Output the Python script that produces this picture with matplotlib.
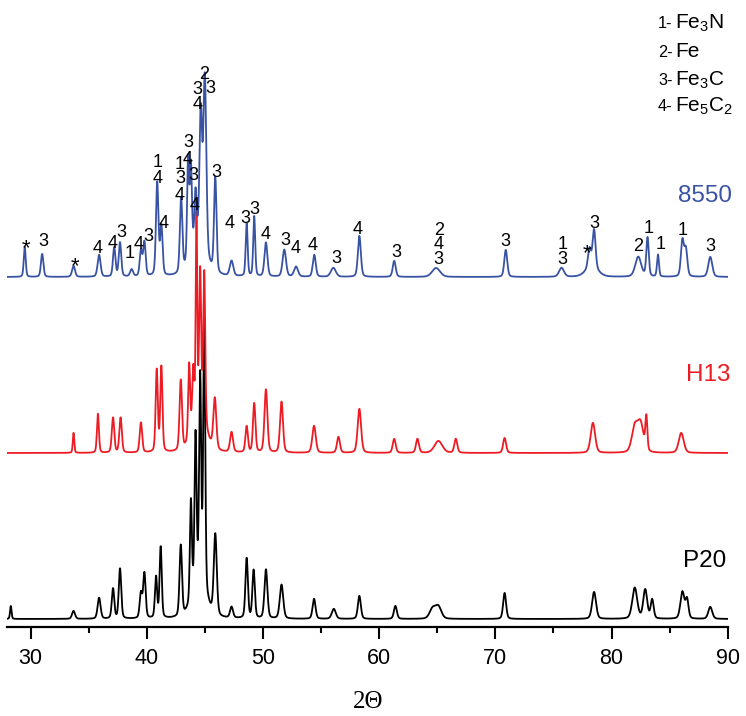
import numpy as np
import matplotlib
matplotlib.use("Agg")
import matplotlib.pyplot as plt

plt.rcParams['font.family'] = ['Liberation Sans', 'DejaVu Sans']
plt.rcParams['mathtext.fontset'] = 'custom'
plt.rcParams['mathtext.rm'] = 'Liberation Sans'

# ---------------- data ----------------
x_min, x_max = 28, 90
x_ticks = [30, 40, 50, 60, 70, 80, 90]

sample_names = ["8550", "H13", "P20"]
sample_offsets = [350, 174, 8]           # baseline intensity (a.u.)

# 8550 (blue)
blue_pos = [29.5, 31.0, 33.7, 35.9, 37.2, 37.7, 38.7, 39.5, 39.8, 40.9, 41.26,
            42.96, 43.56, 43.8, 44.2, 44.4, 44.65, 45.0, 45.9, 47.3, 48.6, 49.25,
            50.26, 51.84, 52.85, 54.42, 56.06, 58.3, 61.3, 64.9, 70.9, 75.7,
            78.1, 78.5, 78.3, 82.3, 83.1, 84.0, 86.1, 86.4, 88.5]
blue_height = [30, 23, 11, 22, 29, 34, 7, 25, 34, 93, 49,
               74, 100, 85, 45, 40, 125, 175, 95, 15, 53, 60,
               34, 27, 10, 22, 9, 41, 16, 9, 27, 9,
               19, 38, 10, 20, 39, 22, 36, 27, 20]
blue_width = [0.2, 0.25, 0.3, 0.3, 0.25, 0.25, 0.3, 0.25, 0.25, 0.25, 0.25,
              0.25, 0.2, 0.2, 0.2, 1.4, 0.25, 0.3, 0.25, 0.35, 0.2, 0.2,
              0.3, 0.35, 0.4, 0.3, 0.5, 0.3, 0.3, 0.8, 0.3, 0.5,
              0.3, 0.3, 1.2, 0.6, 0.25, 0.2, 0.3, 0.3, 0.4]

# H13 (red)
red_pos = [33.7, 35.8, 37.1, 37.75, 39.5, 40.86, 41.26, 42.93, 43.65, 44.0,
           44.28, 44.6, 44.95, 44.5, 45.86, 47.3, 48.6, 49.25, 50.26, 51.6,
           54.4, 56.5, 58.3, 61.3, 63.3, 65.1, 66.6, 70.8, 78.4, 82.0, 82.5,
           83.0, 86.0]
red_height = [20, 39, 35, 35, 30, 82, 85, 70, 74, 55,
              200, 140, 150, 40, 51, 20, 26, 49, 63, 51,
              27, 16, 44, 14, 14, 12, 14, 15, 30, 25, 28,
              33, 20]
red_width = [0.15, 0.2, 0.25, 0.25, 0.25, 0.22, 0.22, 0.25, 0.2, 0.2,
             0.15, 0.2, 0.2, 1.3, 0.3, 0.3, 0.25, 0.25, 0.3, 0.3,
             0.35, 0.3, 0.35, 0.3, 0.3, 0.8, 0.3, 0.3, 0.45, 0.6, 0.6,
             0.2, 0.5]

# P20 (black)
black_pos = [28.3, 33.7, 35.9, 37.1, 37.7, 39.5, 39.8, 40.8, 41.2, 42.93,
             43.8, 44.2, 44.6, 44.95, 44.5, 45.9, 47.3, 48.6, 49.2, 50.26,
             51.6, 54.4, 56.1, 58.3, 61.4, 64.6, 65.1, 70.8, 78.5, 82.0,
             82.9, 83.5, 86.1, 86.5, 88.5]
black_height = [13, 8, 21, 30, 50, 25, 45, 41, 71, 71,
                98, 148, 200, 266, 40, 81, 11, 60, 48, 49,
                34, 20, 10, 23, 13, 10, 12, 26, 27, 31,
                29, 19, 27, 19, 12]
black_width = [0.15, 0.3, 0.3, 0.25, 0.25, 0.25, 0.25, 0.22, 0.22, 0.25,
               0.2, 0.2, 0.2, 0.2, 1.3, 0.3, 0.3, 0.25, 0.25, 0.3,
               0.35, 0.3, 0.4, 0.3, 0.3, 0.6, 0.6, 0.3, 0.4, 0.5,
               0.4, 0.3, 0.4, 0.3, 0.4]

# phase labels above the 8550 pattern
label_text = ["*", "3", "*", "4", "4", "3", "1", "4", "3", "1", "4", "4",
              "4", "3", "1", "4", "3", "3", "4", "4", "3", "2", "3", "3",
              "4", "3", "3", "4", "3", "4", "4", "3", "4", "3",
              "2", "4", "3", "3", "1", "3", "*", "3", "2", "1", "1", "1", "3"]
label_x = [29.57, 31.09, 33.79, 35.80, 37.03, 37.84, 38.53, 39.28, 40.11, 40.95, 40.95, 41.49,
           42.81, 42.90, 42.81, 43.50, 43.56, 44.02, 44.14, 44.40, 44.36, 44.97, 45.46, 45.95,
           47.16, 48.47, 49.25, 50.20, 51.92, 52.84, 54.31, 56.29, 58.16, 61.45,
           65.14, 65.14, 65.14, 70.89, 75.78, 75.78, 77.90, 78.50, 82.29, 83.16, 84.25, 86.12, 88.47]
label_y = [385, 387, 367, 380, 385, 396, 375, 384, 392, 466, 450, 405,
           433, 450, 464, 469, 486, 453, 423, 524, 539, 554, 540, 456,
           405, 410, 419, 394, 388, 380, 383, 370, 399, 376,
           398, 384, 369, 387, 384, 369, 380, 405, 382, 400, 384, 398, 382]

legend_num = ["1-", "2-", "3-", "4-"]
legend_phase = [r"Fe$_\mathregular{3}$N", "Fe", r"Fe$_\mathregular{3}$C",
                r"Fe$_\mathregular{5}$C$_\mathregular{2}$"]

# ---------------- drawing ----------------
W, H = 746, 716
fig = plt.figure(figsize=(W / 100, H / 100), dpi=100)
ax = fig.add_axes([7.3 / W, (H - 627) / H, (727.7 - 7.3) / W, 627 / H])

x = np.linspace(x_min, x_max, 6201)


def pattern(pos, hgt, wid, base):
    y = np.full_like(x, float(base))
    for p, a, w in zip(pos, hgt, wid):
        d = (x - p) / w
        y += a * (0.7 * np.exp(-4 * np.log(2) * d ** 2) + 0.3 / (1 + 4 * d ** 2))
    return y


colors = ["#3953a4", "#ed1c24", "#000000"]
series = [(blue_pos, blue_height, blue_width),
          (red_pos, red_height, red_width),
          (black_pos, black_height, black_width)]
for (pos, hgt, wid), base, c, z in zip(series, sample_offsets, colors, [3, 2, 1]):
    ax.plot(x, pattern(pos, hgt, wid, base), color=c, lw=1.3, zorder=z)

# sample names
name_x = [88.04, 88.3, 88.04]
name_y = [431, 252, 66]
for n, nx, ny, c in zip(sample_names, name_x, name_y, colors):
    ax.text(nx, ny, n, color=c, fontsize=17.5, ha="center", va="center")

# phase labels
for s, lx, ly in zip(label_text, label_x, label_y):
    if s == "*":
        ax.annotate(s, (lx, ly), xytext=(0, -7), textcoords="offset pixels",
                    ha="center", va="center", fontsize=16, color="black")
    else:
        ax.annotate(s, (lx, ly), xytext=(0, -1.8), textcoords="offset pixels",
                    ha="center", va="center", fontsize=13, color="black")

ax.set_xlim(x_min, x_max)
ax.set_ylim(0, 627)
for sp in ["left", "right", "top"]:
    ax.spines[sp].set_visible(False)
ax.spines["bottom"].set_linewidth(1.6)
ax.set_yticks([])
ax.set_xticks(x_ticks)
ax.set_xticks(np.arange(35, 90, 10), minor=True)
ax.tick_params(axis="x", which="major", direction="out", length=8.6, width=1.5,
               labelsize=15.5, pad=6.5)
ax.tick_params(axis="x", which="minor", direction="out", length=4.3, width=1.5)

fig.text(368 / W, 1 - 702 / H, "2Θ", family="Liberation Serif", fontsize=18,
         ha="center", va="center")

# legend in upper right
leg_base = [28.3, 57, 85, 111]
for num, ph, b in zip(legend_num, legend_phase, leg_base):
    fig.text(658 / W, 1 - b / H, num, fontsize=11.7, ha="left", va="baseline")
    fig.text(675 / W, 1 - b / H, ph, fontsize=15, ha="left", va="baseline")

fig.savefig("out.png", dpi=100)
